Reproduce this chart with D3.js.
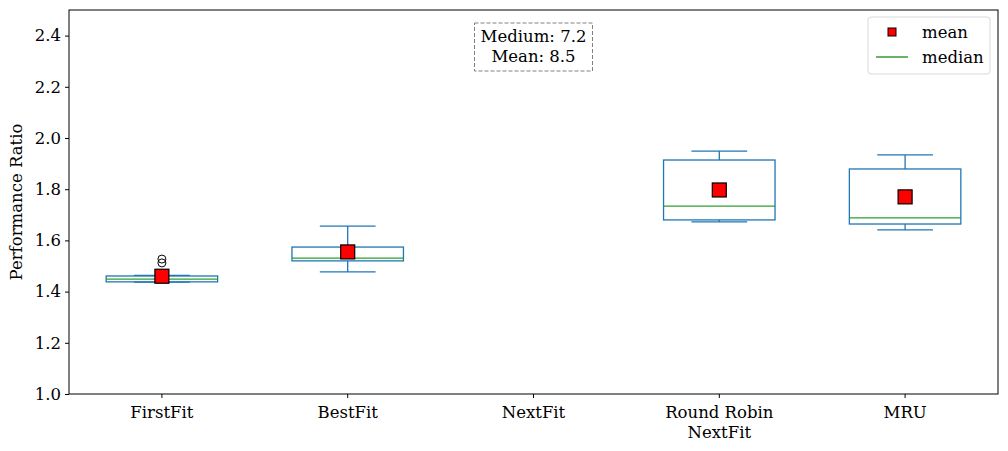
<!DOCTYPE html>
<html><head><meta charset="utf-8">
<script src="https://cdn.jsdelivr.net/npm/d3@7"></script>
<style>body{margin:0;background:#fff}svg{display:block}text{font-family:"DejaVu Serif",serif;fill:#000}</style>
</head><body><svg id="c" width="1008" height="451"></svg>
<script>
const categories = ["FirstFit","BestFit","NextFit","Round Robin\nNextFit","MRU"];
const whiskerLow  = [1.437, 1.477, null, 1.672, 1.641];
const q1          = [1.438, 1.520, null, 1.680, 1.664];
const median      = [1.449, 1.531, null, 1.734, 1.688];
const q3          = [1.461, 1.574, null, 1.914, 1.879];
const whiskerHigh = [1.463, 1.656, null, 1.949, 1.934];
const means       = [1.460, 1.555, null, 1.797, 1.770];
const outliers    = [[1.512, 1.527], [], [], [], []];
const yTicks = [1.0,1.2,1.4,1.6,1.8,2.0,2.2,2.4];
const annotation = ["Medium: 7.2","Mean: 8.5"];

const FS = "16.5px";
const svg = d3.select("#c");
const m = {l:69, r:998, t:10, b:394};
const x = d3.scaleBand().domain(categories).range([m.l, m.r]).padding(0);
const y = d3.scaleLinear().domain([1.0, 2.5]).range([m.b, m.t]);
const blue = "#1f77b4", green = "#2ca02c";
const bw = x.bandwidth()*0.6, cw = bw/2;

// axes
const yAxis = svg.append("g").attr("transform",`translate(${m.l},0)`)
  .call(d3.axisLeft(y).tickValues(yTicks).tickFormat(d3.format(".1f")).tickSize(4).tickPadding(4));
yAxis.select(".domain").remove();
yAxis.selectAll("text").style("font-size",FS).style("font-family","DejaVu Serif");
const xAxis = svg.append("g").attr("transform",`translate(0,${m.b})`)
  .call(d3.axisBottom(x).tickSize(4).tickPadding(4).tickFormat(""));
xAxis.select(".domain").remove();
xAxis.selectAll(".tick").each(function(d){
  const t = d3.select(this).append("text").attr("y", 24).attr("text-anchor","middle")
    .style("font-size",FS).style("font-family","DejaVu Serif").attr("fill","#000");
  d.split("\n").forEach((s,i)=> t.append("tspan").attr("x",0).attr("dy", i?20:0).text(s));
});

svg.append("text").attr("transform",`translate(22,${(m.t+m.b)/2}) rotate(-90)`)
  .attr("text-anchor","middle").style("font-size",FS).text("Performance Ratio");

// boxes
const g = svg.append("g");
categories.forEach((c,i)=>{
  if (q1[i]==null) return;
  const cx = x(c)+x.bandwidth()/2;
  const s = g.append("g").attr("fill","none").attr("stroke",blue).attr("stroke-width",1.3);
  s.append("line").attr("x1",cx).attr("x2",cx).attr("y1",y(whiskerLow[i])).attr("y2",y(q1[i]));
  s.append("line").attr("x1",cx).attr("x2",cx).attr("y1",y(q3[i])).attr("y2",y(whiskerHigh[i]));
  s.append("line").attr("x1",cx-cw/2).attr("x2",cx+cw/2).attr("y1",y(whiskerLow[i])).attr("y2",y(whiskerLow[i]));
  s.append("line").attr("x1",cx-cw/2).attr("x2",cx+cw/2).attr("y1",y(whiskerHigh[i])).attr("y2",y(whiskerHigh[i]));
  s.append("rect").attr("x",cx-bw/2).attr("width",bw).attr("y",y(q3[i])).attr("height",y(q1[i])-y(q3[i]));
  g.append("line").attr("x1",cx-bw/2).attr("x2",cx+bw/2).attr("y1",y(median[i])).attr("y2",y(median[i]))
    .attr("stroke",green).attr("stroke-width",1.3);
  outliers[i].forEach(v=> g.append("circle").attr("cx",cx).attr("cy",y(v)).attr("r",4)
    .attr("fill","none").attr("stroke","#000").attr("stroke-width",1));
  g.append("rect").attr("x",cx-7).attr("y",y(means[i])-7).attr("width",14).attr("height",14)
    .attr("fill","red").attr("stroke","#000").attr("stroke-width",1.2);
});

// frame
svg.append("rect").attr("x",m.l).attr("y",m.t).attr("width",m.r-m.l).attr("height",m.b-m.t)
  .attr("fill","none").attr("stroke","#000").attr("stroke-width",1);

// annotation
const ax = (x(categories[2])+x.bandwidth()/2);
svg.append("rect").attr("x",ax-59).attr("y",23).attr("width",118).attr("height",48)
  .attr("fill","#fff").attr("stroke","#808080").attr("stroke-dasharray","4,2").attr("stroke-width",1);
annotation.forEach((t,i)=> svg.append("text").attr("x",ax).attr("y",42+i*20).attr("text-anchor","middle")
  .style("font-size",FS).text(t));

// legend
const lg = svg.append("g");
lg.append("rect").attr("x",868).attr("y",17).attr("width",122).attr("height",57).attr("rx",3)
  .attr("fill","#fff").attr("stroke","#d9d9d9");
lg.append("rect").attr("x",888).attr("y",28).attr("width",8).attr("height",8)
  .attr("fill","red").attr("stroke","#000").attr("stroke-width",1);
lg.append("text").attr("x",922).attr("y",38).style("font-size",FS).text("mean");
lg.append("line").attr("x1",876).attr("x2",908).attr("y1",57).attr("y2",57).attr("stroke","green").attr("stroke-width",1.2);
lg.append("text").attr("x",922).attr("y",63).style("font-size",FS).text("median");
</script></body></html>
